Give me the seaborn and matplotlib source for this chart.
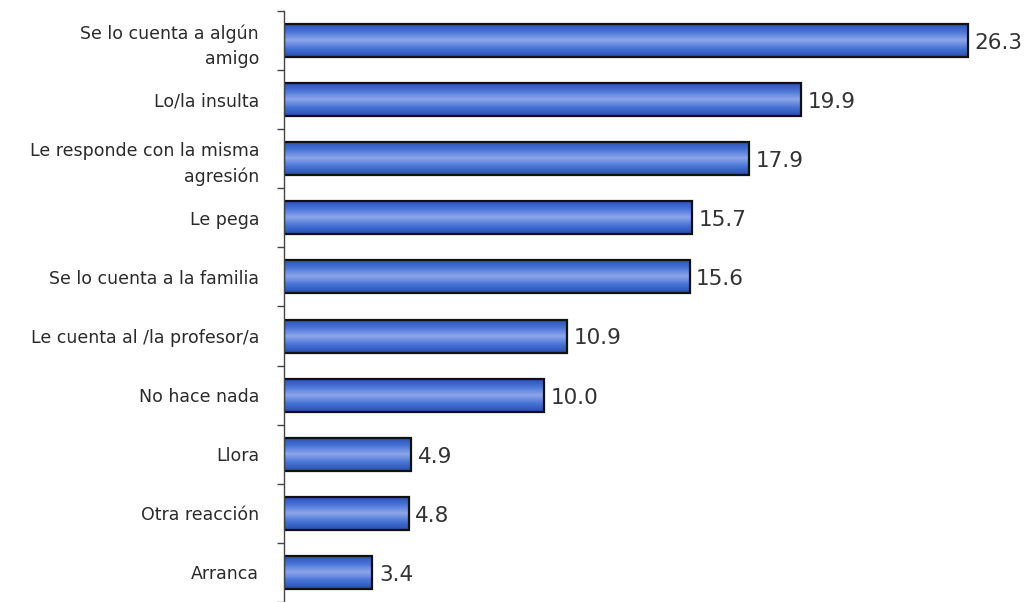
import matplotlib
matplotlib.use("Agg")
import matplotlib.pyplot as plt
import seaborn as sns
import numpy as np
import pandas as pd
from matplotlib.colors import LinearSegmentedColormap

categories = [
    "Se lo cuenta a algún\namigo",
    "Lo/la insulta",
    "Le responde con la misma\nagresión",
    "Le pega",
    "Se lo cuenta a la familia",
    "Le cuenta al /la profesor/a",
    "No hace nada",
    "Llora",
    "Otra reacción",
    "Arranca",
]
values = [26.3, 19.9, 17.9, 15.7, 15.6, 10.9, 10.0, 4.9, 4.8, 3.4]
value_labels = ["26.3", "19.9", "17.9", "15.7", "15.6", "10.9", "10.0", "4.9", "4.8", "3.4"]

sns.set_theme(style="white")
plt.rcParams["font.family"] = ["DejaVu Sans"]

df = pd.DataFrame({"cat": categories, "val": values})

fig = plt.figure(figsize=(10.32, 6.02), dpi=100)
ax = fig.add_axes([284 / 1032, 0.0, 1 - 284 / 1032, 591 / 602])

sns.barplot(data=df, y="cat", x="val", orient="h", color="#3b66d0",
            width=0.56, ax=ax, saturation=1)

xmax = (1032 - 284) / 26.0
ax.set_xlim(0, xmax)
ax.set_ylim(9.48, -0.5)

cmap = LinearSegmentedColormap.from_list(
    "bar", [(0.0, "#2a4cb0"), (0.25, "#4874d6"), (0.5, "#8ea6ea"),
            (0.75, "#4874d6"), (1.0, "#2a4cb0")])
grad = np.linspace(0, 1, 64).reshape(-1, 1)

for p in list(ax.patches):
    x0, y0 = p.get_x(), p.get_y()
    w, h = p.get_width(), p.get_height()
    im = ax.imshow(grad, cmap=cmap, aspect="auto", extent=(x0, x0 + w, y0 + h, y0),
                   origin="upper", zorder=p.get_zorder() + 0.1, interpolation="bilinear")
    im.set_clip_path(p)
    p.set_facecolor("none")
    p.set_edgecolor("#111111")
    p.set_linewidth(1.6)
    p.set_zorder(p.get_zorder() + 0.2)

ax.set_xlim(0, xmax)
ax.set_ylim(9.48, -0.5)

for i, (v, lab) in enumerate(zip(values, value_labels)):
    ax.text(v + 0.25, i + 0.04, lab, va="center", ha="left", fontsize=15.5, color="#333333")

ax.set_xlabel("")
ax.set_ylabel("")
ax.set_xticks([])
ax.set_yticks(range(len(categories)))
ax.set_yticklabels(categories, fontsize=12.5, color="#2a2a2a", linespacing=1.5)
ax.set_yticks(np.arange(-0.5, len(categories), 1.0), minor=True)
ax.tick_params(axis="y", which="major", length=0, pad=18)
ax.tick_params(axis="y", which="minor", length=5, width=1, color="#444444", left=True, direction="out")

for s in ["top", "right", "bottom"]:
    ax.spines[s].set_visible(False)
ax.spines["left"].set_color("#444444")
ax.spines["left"].set_linewidth(1.0)

fig.savefig("out.png", dpi=100)
